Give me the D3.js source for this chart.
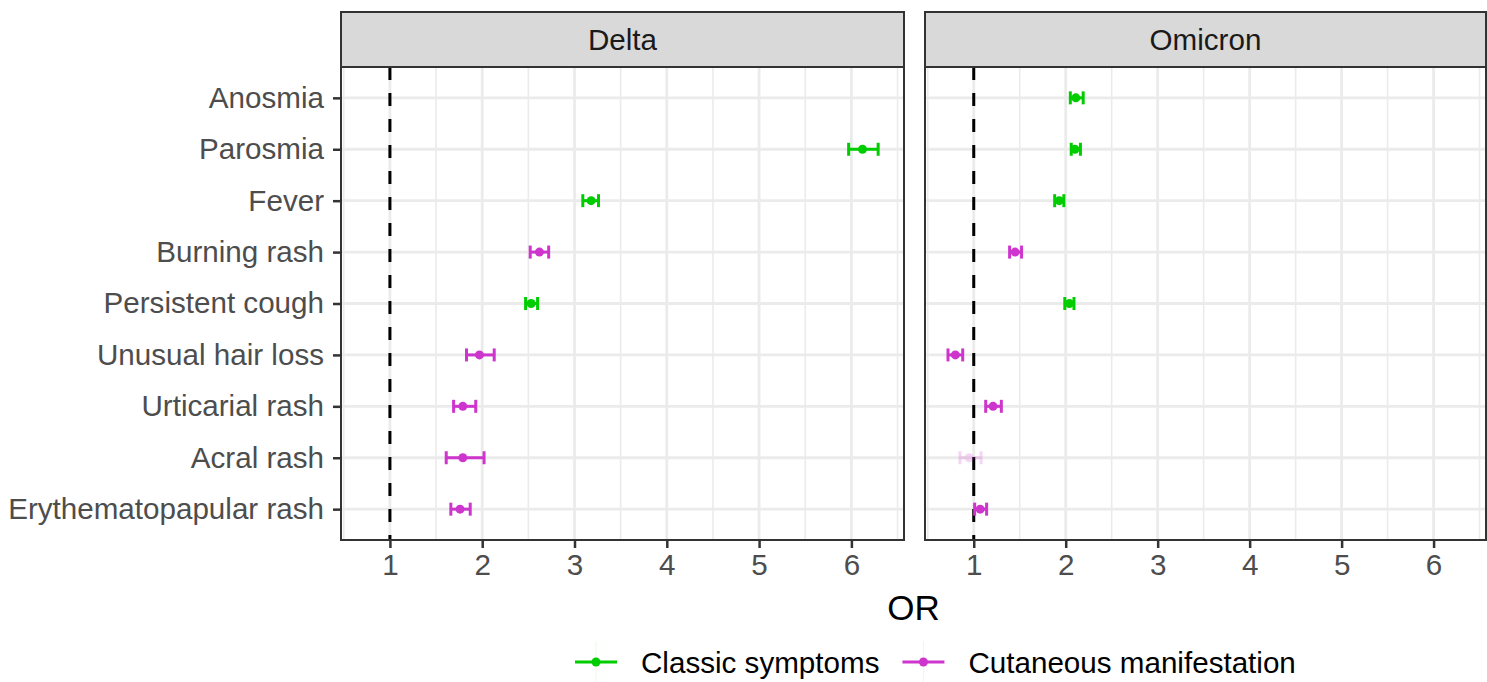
<!DOCTYPE html>
<html><head><meta charset="utf-8">
<script src="https://cdn.jsdelivr.net/npm/d3@7"></script>
<style>body{margin:0;background:#fff} svg{display:block} text{font-family:"Liberation Sans", Arial, Helvetica, sans-serif}</style>
</head><body><svg id="c" width="1487" height="682"></svg>
<script>
const categories = ["Anosmia","Parosmia","Fever","Burning rash","Persistent cough","Unusual hair loss","Urticarial rash","Acral rash","Erythematopapular rash"];
const groups = ["Classic symptoms","Classic symptoms","Classic symptoms","Cutaneous manifestation","Classic symptoms","Cutaneous manifestation","Cutaneous manifestation","Cutaneous manifestation","Cutaneous manifestation"];
const variants = ["Delta","Omicron"];
const deltaOR = [null,6.12,3.18,2.62,2.53,1.97,1.79,1.79,1.76];
const deltaLo = [null,5.97,3.09,2.52,2.47,1.83,1.69,1.61,1.66];
const deltaHi = [null,6.29,3.26,2.72,2.60,2.13,1.93,2.02,1.87];
const deltaSig = [true,true,true,true,true,true,true,true,true];
const omicronOR = [2.11,2.10,1.93,1.45,2.04,0.80,1.21,0.95,1.07];
const omicronLo = [2.05,2.06,1.88,1.39,1.99,0.72,1.13,0.85,1.01];
const omicronHi = [2.19,2.16,1.98,1.52,2.09,0.88,1.30,1.08,1.14];
const omicronSig = [true,true,true,true,true,true,true,false,true];
const xTicks = [1,2,3,4,5,6];
const xMinor = [0.5,1.5,2.5,3.5,4.5,5.5,6.5];
const refLine = 1;
const legendLabels = ["Classic symptoms","Cutaneous manifestation"];
const axisTitle = "OR";

(function(){
const FS = 29.6;
const colors = d3.scaleOrdinal().domain(legendLabels).range(["#00CD00","#CD35CD"]);
const svg = d3.select("#c");
const pTop = 67, pBottom = 540, stripTop = 12;
const panels = [
  {name: variants[0], x0: 341, x1: 904, or: deltaOR, lo: deltaLo, hi: deltaHi, sig: deltaSig},
  {name: variants[1], x0: 925, x1: 1486, or: omicronOR, lo: omicronLo, hi: omicronHi, sig: omicronSig}
];
const y = d3.scalePoint().domain(categories).range([pTop, pBottom]).padding(0.6);

panels.forEach((p, pi) => {
  const x = d3.scaleLinear().domain([0.47, 6.57]).range([p.x0, p.x1]);
  const g = svg.append("g");
  g.append("rect").attr("x", p.x0).attr("y", pTop).attr("width", p.x1 - p.x0).attr("height", pBottom - pTop).attr("fill", "#fff");
  g.selectAll(".mn").data(xMinor.filter(v => v > 0.47 && v < 6.57)).join("line")
    .attr("x1", d => x(d)).attr("x2", d => x(d)).attr("y1", pTop).attr("y2", pBottom)
    .attr("stroke", "#EBEBEB").attr("stroke-width", 1.6);
  g.selectAll(".mj").data(xTicks).join("line")
    .attr("x1", d => x(d)).attr("x2", d => x(d)).attr("y1", pTop).attr("y2", pBottom)
    .attr("stroke", "#EBEBEB").attr("stroke-width", 2.8);
  g.selectAll(".hy").data(categories).join("line")
    .attr("x1", p.x0).attr("x2", p.x1).attr("y1", d => y(d)).attr("y2", d => y(d))
    .attr("stroke", "#EBEBEB").attr("stroke-width", 2.8);
  g.append("line").attr("x1", x(refLine)).attr("x2", x(refLine)).attr("y1", pTop).attr("y2", pBottom)
    .attr("stroke", "#000").attr("stroke-width", 3).attr("stroke-dasharray", "13,13");
  const rows = categories.map((c, i) => ({c, g: groups[i], or: p.or[i], lo: p.lo[i], hi: p.hi[i], sig: p.sig[i]})).filter(d => d.or != null);
  const eb = g.selectAll(".eb").data(rows).join("g").attr("opacity", d => d.sig ? 1 : 0.2);
  eb.append("line").attr("x1", d => x(d.lo)).attr("x2", d => x(d.hi)).attr("y1", d => y(d.c)).attr("y2", d => y(d.c))
    .attr("stroke", d => colors(d.g)).attr("stroke-width", 3);
  eb.append("line").attr("x1", d => x(d.lo)).attr("x2", d => x(d.lo)).attr("y1", d => y(d.c) - 6.5).attr("y2", d => y(d.c) + 6.5)
    .attr("stroke", d => colors(d.g)).attr("stroke-width", 3);
  eb.append("line").attr("x1", d => x(d.hi)).attr("x2", d => x(d.hi)).attr("y1", d => y(d.c) - 6.5).attr("y2", d => y(d.c) + 6.5)
    .attr("stroke", d => colors(d.g)).attr("stroke-width", 3);
  eb.append("circle").attr("cx", d => x(d.or)).attr("cy", d => y(d.c)).attr("r", 4.5).attr("fill", d => colors(d.g));
  g.append("rect").attr("x", p.x0).attr("y", pTop).attr("width", p.x1 - p.x0).attr("height", pBottom - pTop)
    .attr("fill", "none").attr("stroke", "#333").attr("stroke-width", 2);
  g.append("rect").attr("x", p.x0).attr("y", stripTop).attr("width", p.x1 - p.x0).attr("height", pTop - stripTop)
    .attr("fill", "#D9D9D9").attr("stroke", "#333").attr("stroke-width", 2);
  g.append("text").attr("x", (p.x0 + p.x1) / 2).attr("y", (stripTop + pTop) / 2).attr("dy", "0.36em")
    .attr("text-anchor", "middle").attr("font-size", FS).attr("fill", "#1A1A1A").text(p.name);
  const ax = d3.axisBottom(x).tickValues(xTicks).tickSize(8).tickPadding(6).tickFormat(d3.format("d"));
  const axg = g.append("g").attr("transform", `translate(0,${pBottom})`).call(ax);
  axg.select(".domain").remove();
  axg.selectAll(".tick line").attr("stroke", "#333").attr("stroke-width", 2.5);
  axg.selectAll(".tick text").attr("font-size", FS).attr("fill", "#4D4D4D").attr("font-family", "Liberation Sans, Arial, sans-serif");
  if (pi === 0) {
    const ay = d3.axisLeft(y).tickSize(8).tickPadding(9);
    const ayg = g.append("g").attr("transform", `translate(${p.x0},0)`).call(ay);
    ayg.select(".domain").remove();
    ayg.selectAll(".tick line").attr("stroke", "#333").attr("stroke-width", 2.5);
    ayg.selectAll(".tick text").attr("font-size", FS).attr("fill", "#4D4D4D").attr("font-family", "Liberation Sans, Arial, sans-serif");
  }
});

svg.append("text").attr("x", (341 + 1486) / 2).attr("y", 620).attr("text-anchor", "middle")
  .attr("font-size", 35).attr("fill", "#000").text(axisTitle);

const lg = svg.append("g");
let lx = 575;
const ly = 662;
legendLabels.forEach((lab) => {
  const c = colors(lab);
  lg.append("line").attr("x1", lx + 21).attr("x2", lx + 21).attr("y1", ly - 21).attr("y2", ly + 21)
    .attr("stroke", c).attr("stroke-width", 1).attr("opacity", 0.08);
  lg.append("line").attr("x1", lx).attr("x2", lx + 42).attr("y1", ly).attr("y2", ly)
    .attr("stroke", c).attr("stroke-width", 3);
  lg.append("circle").attr("cx", lx + 21).attr("cy", ly).attr("r", 4.5).attr("fill", c);
  const t = lg.append("text").attr("x", lx + 66).attr("y", ly).attr("dy", "0.36em")
    .attr("font-size", FS).attr("fill", "#000").text(lab);
  lx = lx + 66 + t.node().getComputedTextLength() + 23;
});
})();
</script></body></html>
